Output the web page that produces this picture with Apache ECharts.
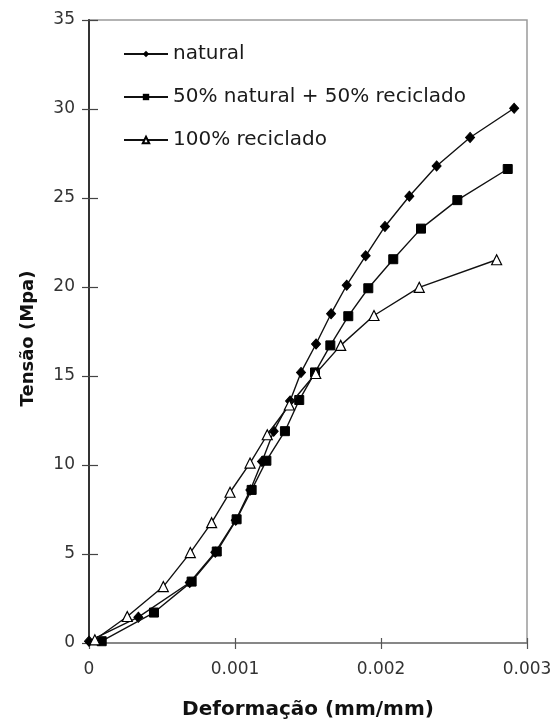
<!DOCTYPE html>
<html>
<head>
<meta charset="utf-8">
<script src="https://cdn.jsdelivr.net/npm/echarts@6/dist/echarts.min.js"></script>
<style>
html,body{margin:0;padding:0;background:#fff;}
#chart{width:555px;height:725px;}
</style>
</head>
<body>
<div id="chart"></div>
<script>
// Data (x: strain mm/mm, y: stress MPa)
var seriesNames = ['natural', '50% natural + 50% reciclado', '100% reciclado'];
var naturalX = [0, 0.000338, 0.00069, 0.000865, 0.001005, 0.001105, 0.001185, 0.001265, 0.001377, 0.001452, 0.001555, 0.001658, 0.001765, 0.001895, 0.002027, 0.002194, 0.002381, 0.00261, 0.002912];
var naturalY = [0.1, 1.45, 3.4, 5.1, 6.9, 8.6, 10.2, 11.9, 13.6, 15.2, 16.8, 18.5, 20.1, 21.75, 23.4, 25.1, 26.8, 28.4, 30.04];
var mixX = [0.000087, 0.000445, 0.000703, 0.000875, 0.001011, 0.001114, 0.001215, 0.001342, 0.00144, 0.001548, 0.001653, 0.001776, 0.001913, 0.002084, 0.002274, 0.002523, 0.002868];
var mixY = [0.1, 1.71, 3.45, 5.14, 6.95, 8.6, 10.24, 11.9, 13.65, 15.2, 16.72, 18.36, 19.93, 21.56, 23.28, 24.88, 26.63];
var recX = [0.00004, 0.000262, 0.000509, 0.000694, 0.00084, 0.000966, 0.001103, 0.001221, 0.001372, 0.001553, 0.001724, 0.001952, 0.002262, 0.002792];
var recY = [0.18, 1.49, 3.17, 5.08, 6.76, 8.47, 10.11, 11.7, 13.37, 15.14, 16.72, 18.4, 19.98, 21.53];
var xTicks = [0, 0.001, 0.002, 0.003];
var yTicks = [0, 5, 10, 15, 20, 25, 30, 35];

function pairs(xs, ys) { return xs.map(function (x, i) { return [x, ys[i]]; }); }

var chart = echarts.init(document.getElementById('chart'), null, {renderer: 'canvas'});
var font = '"DejaVu Sans", "Liberation Sans", Arial, sans-serif';
var lineStyle = {color: '#111', width: 1.4};

var option = {
  animation: false,
  backgroundColor: '#fff',
  textStyle: {fontFamily: font},
  grid: {left: 89, right: 28, top: 20, bottom: 79, show: true, borderColor: '#9a9a9a', borderWidth: 1.5},
  legend: {
    orient: 'vertical', left: 118, top: 39,
    itemWidth: 44, itemHeight: 8, itemGap: 23,
    textStyle: {fontFamily: font, fontSize: 20, color: '#1a1a1a'},
    data: seriesNames
  },
  xAxis: [{
    type: 'value', min: xTicks[0], max: xTicks[xTicks.length - 1], interval: 0.001,
    name: 'Deformação (mm/mm)', nameLocation: 'middle', nameGap: 57,
    nameTextStyle: {fontFamily: font, fontSize: 20, fontWeight: 'bold', color: '#111'},
    axisLine: {lineStyle: {color: '#7a7a7a', width: 1.5}},
    axisTick: {show: true, length: 6, lineStyle: {color: '#555', width: 1.2}},
    axisLabel: {fontSize: 17, color: '#333', margin: 18, formatter: function (v) { return v === 0 ? '0' : v.toFixed(3); }},
    splitLine: {show: false}
  }, {
    type: 'value', min: xTicks[0], max: xTicks[xTicks.length - 1], interval: 0.001, position: 'bottom',
    axisLine: {show: false}, axisLabel: {show: false}, splitLine: {show: false},
    axisTick: {show: true, inside: true, length: 5, lineStyle: {color: '#555', width: 1.2}}
  }],
  yAxis: [{
    type: 'value', min: yTicks[0], max: yTicks[yTicks.length - 1], interval: 5,
    name: 'Tensão (Mpa)', nameLocation: 'middle', nameGap: 52, nameRotate: 90,
    nameTextStyle: {fontFamily: font, fontSize: 18, fontWeight: 'bold', color: '#111', padding: [0, 14, 0, 0]},
    axisLine: {lineStyle: {color: '#333', width: 2}},
    axisTick: {show: true, length: 7, lineStyle: {color: '#444', width: 1.2}},
    axisLabel: {fontSize: 17, color: '#333', margin: 14},
    splitLine: {show: false}
  }, {
    type: 'value', min: yTicks[0], max: yTicks[yTicks.length - 1], interval: 5, position: 'left',
    axisLine: {show: false}, axisLabel: {show: false}, splitLine: {show: false},
    axisTick: {show: true, inside: true, length: 9, lineStyle: {color: '#444', width: 1.2}}
  }],
  series: [{
    name: seriesNames[0], type: 'line', data: pairs(naturalX, naturalY),
    symbol: 'diamond', symbolSize: [9, 10], showAllSymbol: true,
    lineStyle: lineStyle, itemStyle: {color: '#000', borderColor: '#000'}, z: 3
  }, {
    name: seriesNames[1], type: 'line', data: pairs(mixX, mixY),
    symbol: 'rect', symbolSize: 9, showAllSymbol: true,
    lineStyle: lineStyle, itemStyle: {color: '#000', borderColor: '#000'}, z: 4
  }, {
    name: seriesNames[2], type: 'line', data: pairs(recX, recY),
    symbol: 'triangle', symbolSize: 10, showAllSymbol: true,
    lineStyle: lineStyle, itemStyle: {color: '#fff', borderColor: '#000', borderWidth: 1.2}, z: 5
  }]
};
chart.setOption(option);
</script>
</body>
</html>
